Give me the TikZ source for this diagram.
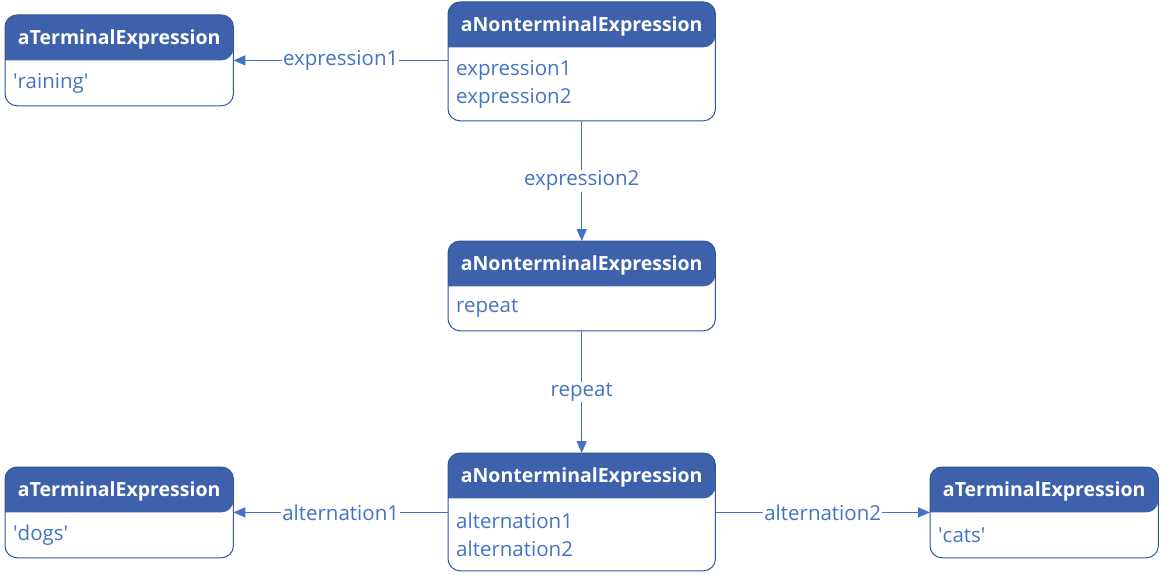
\documentclass[tikz,border=0pt]{standalone}
\usepackage{fontspec}
\setmainfont{Open Sans}
\usetikzlibrary{positioning,arrows.meta,backgrounds}

\definecolor{hdrblue}{RGB}{61,97,171}
\definecolor{edgeblue}{RGB}{47,85,151}
\definecolor{txtblue}{RGB}{68,114,196}

\tikzset{
  hdr/.style={inner sep=0pt, minimum height=45pt, text height=14pt, text depth=1pt, text=white, font=\fontsize{19.5}{28}\selectfont\bfseries},
  bdy/.style={inner xsep=8pt, inner ysep=0pt, align=left, text=txtblue, font=\fontsize{20.5}{28}\selectfont},
  link/.style={txtblue, line width=1.5pt, -{Triangle[length=12pt,width=10pt]}},
  lbl/.style={fill=white, inner sep=1pt, text=txtblue, font=\fontsize{20.5}{28}\selectfont},
}

\begin{document}
\begin{tikzpicture}[x=1pt,y=-1pt]
  \useasboundingbox (0,0) rectangle (1161,575);
  % terminal boxes
  \node[hdr, minimum width=228pt, anchor=north west] (t1h) at (5,15) {aTerminalExpression};
  \node[bdy, text width=212pt, minimum height=45pt, below=0pt of t1h] (t1b) {\textquotesingle raining\textquotesingle};
  \node[hdr, minimum width=228pt, anchor=north west] (t2h) at (5,467) {aTerminalExpression};
  \node[bdy, text width=212pt, minimum height=45pt, below=0pt of t2h] (t2b) {\textquotesingle dogs\textquotesingle};
  \node[hdr, minimum width=228pt, anchor=north west] (t3h) at (930,467) {aTerminalExpression};
  \node[bdy, text width=212pt, minimum height=45pt, below=0pt of t3h] (t3b) {\textquotesingle cats\textquotesingle};
  % nonterminal boxes
  \node[hdr, minimum width=267pt, anchor=north west] (n1h) at (448,2) {aNonterminalExpression};
  \node[bdy, text width=251pt, minimum height=73pt, below=0pt of n1h] (n1b) {expression1\\expression2};
  \node[hdr, minimum width=267pt, anchor=north west] (n2h) at (448,241) {aNonterminalExpression};
  \node[bdy, text width=251pt, minimum height=44pt, below=0pt of n2h] (n2b) {repeat};
  \node[hdr, minimum width=267pt, anchor=north west] (n3h) at (448,453) {aNonterminalExpression};
  \node[bdy, text width=251pt, minimum height=72pt, below=0pt of n3h] (n3b) {alternation1\\alternation2};

  \begin{scope}[on background layer]
    \foreach \b in {t1,t2,t3,n1,n2,n3} {
      \fill[hdrblue] (\b h.south west) [rounded corners=12pt] |- (\b h.north) -| (\b h.south east) [sharp corners] -- cycle;
      \draw[edgeblue, line width=1pt, rounded corners=12pt] (\b h.north west) rectangle (\b b.south east);
    }
  \end{scope}

  % links
  \draw[link] (n1b.west |- t1h.south east) -- node[lbl] {expression1} (t1h.south east);
  \draw[link] (n1b.south) -- node[lbl] {expression2} (n2h.north);
  \draw[link] (n2b.south) -- node[lbl] {repeat} (n3h.north);
  \draw[link] (n3b.west |- t2h.south east) -- node[lbl] {alternation1} (t2h.south east);
  \draw[link] (n3b.east |- t3h.south west) -- node[lbl] {alternation2} (t3h.south west);
\end{tikzpicture}
\end{document}
